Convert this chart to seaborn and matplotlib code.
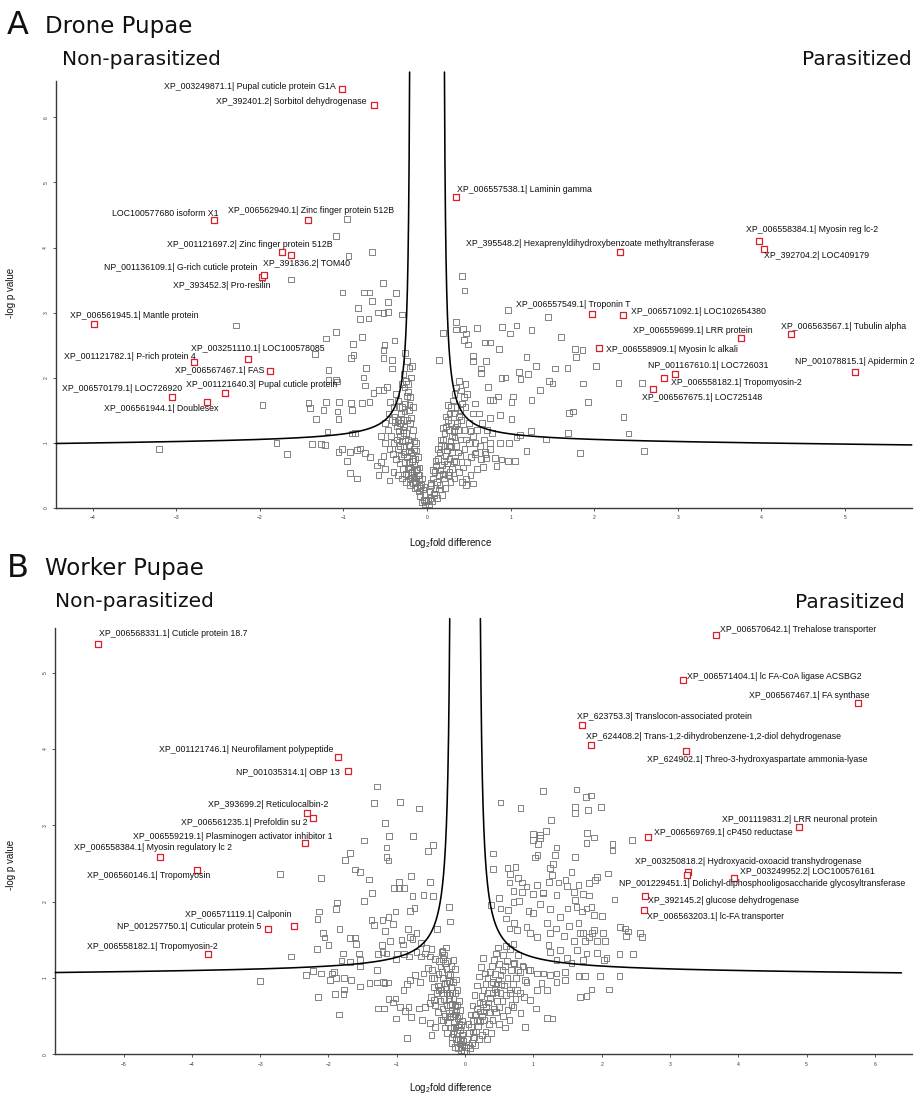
import numpy as np
import pandas as pd
import matplotlib
matplotlib.use('Agg')
import matplotlib.pyplot as plt
import seaborn as sns

# ---------------- Panel A: drone pupae ----------------
drone_gray = [
    (-3.21, 0.90), (-2.29, 2.80), (-0.96, 4.44), (-1.09, 4.18), (-0.94, 3.87), (-0.66, 3.93),
    (-1.63, 3.51), (-0.53, 3.45), (-1.01, 3.31), (-0.75, 3.31), (-0.69, 3.31), (-0.37, 3.30),
    (-0.66, 3.18), (-0.47, 3.16), (-0.83, 3.07), (-0.59, 3.00), (-0.52, 2.99), (-0.47, 3.01),
    (-0.80, 2.90), (-0.70, 2.91), (-0.30, 2.97), (-1.09, 2.70), (-1.21, 2.60), (-0.78, 2.62),
    (-0.89, 2.52), (-0.39, 2.57), (-0.51, 2.50), (-0.52, 2.43), (-1.34, 2.36), (-0.91, 2.30),
    (-0.88, 2.35), (-0.52, 2.30), (-0.42, 2.27), (-0.26, 2.38), (-0.18, 2.18), (0.14, 2.27),
    (0.19, 2.69), (-0.73, 2.15), (-0.42, 2.14), (-1.18, 2.12), (-1.18, 1.97), (-1.09, 1.97),
    (-0.76, 2.00), (-0.74, 1.88), (-1.97, 1.58), (-1.42, 1.61), (-1.40, 1.53), (-1.21, 1.63),
    (-1.24, 1.50), (-1.05, 1.62), (-1.07, 1.48), (-0.91, 1.61), (-0.90, 1.50), (-0.78, 1.61),
    (-0.69, 1.63), (-0.64, 1.76), (-0.58, 1.81), (-0.52, 1.81), (-0.48, 1.86), (-1.33, 1.36),
    (-1.06, 1.36), (-1.19, 1.17), (-0.90, 1.14), (-0.86, 1.15), (-1.80, 1.00), (-1.68, 0.83),
    (-1.38, 0.98), (-1.27, 0.98), (-1.22, 0.96), (-1.06, 0.86), (-1.02, 0.90), (-0.96, 0.72),
    (-0.92, 0.86), (-0.84, 0.89), (-0.80, 0.91), (-0.74, 0.84), (-0.68, 0.78), (-0.92, 0.53),
    (-0.84, 0.45), (-1.08, 1.94),
    (0.42, 3.56), (0.45, 3.34), (0.97, 3.04), (1.45, 2.93), (0.35, 2.86), (0.35, 2.74),
    (0.43, 2.75), (0.47, 2.68), (0.60, 2.76), (0.90, 2.78), (1.07, 2.80), (0.99, 2.68),
    (1.25, 2.73), (1.60, 2.62), (0.44, 2.58), (0.49, 2.51), (0.69, 2.54), (0.75, 2.54),
    (0.86, 2.44), (1.19, 2.32), (1.30, 2.18), (1.77, 2.44), (1.86, 2.43), (1.78, 2.32),
    (2.02, 2.18), (1.53, 2.14), (1.68, 2.15), (0.55, 2.33), (0.55, 2.25), (0.71, 2.25),
    (0.65, 2.14), (0.65, 2.07), (1.10, 2.09), (1.21, 2.05), (1.12, 1.98), (0.89, 1.99),
    (0.94, 2.00), (0.73, 1.86), (0.85, 1.71), (0.75, 1.66), (0.79, 1.66), (1.46, 1.95),
    (1.50, 1.91), (1.87, 1.91), (2.29, 1.92), (2.57, 1.92), (1.25, 1.66), (1.35, 1.81),
    (1.93, 1.62), (1.03, 1.71), (1.01, 1.63), (1.70, 1.46), (1.75, 1.48), (2.35, 1.39),
    (0.87, 1.43), (1.01, 1.36), (0.75, 1.38), (1.24, 1.18), (1.11, 1.12), (1.07, 1.08),
    (1.69, 1.15), (2.41, 1.14), (1.42, 1.05), (1.19, 0.87), (1.83, 0.84), (2.60, 0.87),
    (0.98, 1.00), (0.87, 1.00), (0.75, 1.00), (0.81, 0.76), (0.89, 0.74), (0.97, 0.72),
    (1.05, 0.72), (0.83, 0.64), (0.67, 0.63), (0.71, 0.76), (0.55, 0.37), (0.47, 0.35),
    (0.69, 0.86), (0.57, 0.83),
    # dense centre, left arm
    (-0.02, 0.05), (-0.04, 0.12), (-0.03, 0.20), (-0.06, 0.08), (-0.05, 0.28), (-0.08, 0.18),
    (-0.07, 0.35), (-0.10, 0.25), (-0.09, 0.42), (-0.12, 0.32), (-0.11, 0.50), (-0.14, 0.40),
    (-0.13, 0.58), (-0.16, 0.47), (-0.15, 0.66), (-0.18, 0.55), (-0.17, 0.75), (-0.20, 0.62),
    (-0.19, 0.85), (-0.22, 0.70), (-0.21, 0.95), (-0.24, 0.78), (-0.23, 1.05), (-0.26, 0.86),
    (-0.25, 1.15), (-0.28, 0.95), (-0.27, 1.25), (-0.30, 1.02), (-0.29, 1.35), (-0.32, 1.10),
    (-0.31, 1.45), (-0.34, 1.18), (-0.33, 1.55), (-0.36, 1.25), (-0.35, 1.65), (-0.38, 1.32),
    (-0.37, 1.75), (-0.26, 1.60), (-0.24, 1.72), (-0.27, 1.85), (-0.25, 1.95), (-0.28, 2.05),
    (-0.30, 1.90), (-0.22, 1.50), (-0.20, 1.30), (-0.18, 1.10), (-0.16, 0.90), (-0.14, 0.75),
    (-0.12, 0.60), (-0.10, 0.50), (-0.21, 0.45), (-0.25, 0.52), (-0.29, 0.60), (-0.33, 0.68),
    (-0.37, 0.75), (-0.41, 0.82), (-0.45, 0.90), (-0.40, 1.00), (-0.43, 1.10), (-0.47, 1.20),
    (-0.42, 1.35), (-0.46, 1.45), (-0.40, 1.55), (-0.44, 1.62), (-0.39, 1.40), (-0.35, 0.90),
    (-0.31, 0.80), (-0.27, 0.70), (-0.23, 0.60), (-0.19, 0.50), (-0.15, 0.30), (-0.20, 0.35),
    (-0.25, 0.40), (-0.30, 0.45), (-0.35, 0.50), (-0.40, 0.55), (-0.50, 0.60), (-0.55, 0.70),
    (-0.60, 0.65), (-0.52, 0.80), (-0.58, 0.50), (-0.45, 0.42), (-0.50, 1.00), (-0.55, 1.10),
    (-0.50, 1.30), (-0.36, 1.05), (-0.32, 0.95), (-0.28, 1.15), (-0.34, 1.35), (-0.30, 1.55),
    (-0.23, 1.90), (-0.20, 1.70), (-0.21, 2.15), (-0.24, 2.25), (-0.19, 2.00), (-0.17, 1.55),
    (-0.13, 1.00), (-0.01, 0.10), (-0.03, 0.32), (-0.06, 0.45), (-0.09, 0.62), (-0.11, 0.78),
    (-0.13, 0.88), (-0.15, 1.02), (-0.17, 1.20), (-0.19, 1.38), (-0.21, 1.58), (-0.23, 1.78),
    (-0.08, 0.30), (-0.13, 0.45), (-0.18, 0.72), (-0.22, 0.88), (-0.26, 1.02), (-0.29, 1.20),
    (-0.32, 1.30), (-0.24, 1.35), (-0.27, 1.48), (-0.17, 0.38), (-0.23, 0.50), (-0.28, 0.82),
    # dense centre, right arm
    (0.02, 0.05), (0.04, 0.15), (0.03, 0.25), (0.06, 0.10), (0.05, 0.35), (0.08, 0.22),
    (0.07, 0.45), (0.10, 0.30), (0.09, 0.55), (0.12, 0.40), (0.11, 0.65), (0.14, 0.50),
    (0.13, 0.75), (0.16, 0.58), (0.15, 0.85), (0.18, 0.66), (0.17, 0.95), (0.20, 0.72),
    (0.19, 1.05), (0.22, 0.80), (0.21, 1.15), (0.24, 0.88), (0.23, 1.25), (0.26, 0.95),
    (0.25, 1.35), (0.28, 1.02), (0.27, 1.45), (0.30, 1.10), (0.29, 1.55), (0.32, 1.18),
    (0.31, 1.65), (0.34, 1.25), (0.33, 1.75), (0.36, 1.30), (0.35, 1.85), (0.38, 1.40),
    (0.40, 1.50), (0.42, 1.60), (0.44, 1.70), (0.38, 1.95), (0.25, 0.50), (0.30, 0.60),
    (0.35, 0.70), (0.40, 0.80), (0.45, 0.90), (0.50, 1.00), (0.55, 1.10), (0.60, 1.20),
    (0.50, 1.30), (0.55, 1.45), (0.45, 1.20), (0.40, 1.05), (0.35, 0.95), (0.30, 0.85),
    (0.20, 0.45), (0.15, 0.35), (0.22, 0.30), (0.28, 0.40), (0.33, 0.45), (0.38, 0.55),
    (0.43, 0.62), (0.48, 0.70), (0.53, 0.78), (0.58, 0.85), (0.63, 0.95), (0.68, 1.05),
    (0.60, 0.60), (0.65, 0.75), (0.70, 0.82), (0.75, 0.90), (0.52, 0.50), (0.47, 0.45),
    (0.42, 0.40), (0.57, 1.60), (0.48, 1.75), (0.62, 1.45), (0.66, 1.30), (0.72, 1.20),
    (0.78, 1.15), (0.58, 1.00), (0.26, 1.20), (0.29, 1.30), (0.32, 1.45), (0.36, 1.55),
    (0.41, 1.80), (0.46, 1.90), (0.23, 0.60), (0.27, 0.75), (0.18, 0.20), (0.12, 0.15),
    (0.01, 0.12), (0.04, 0.38), (0.07, 0.58), (0.10, 0.72), (0.13, 0.90), (0.16, 1.05),
    (0.19, 1.22), (0.22, 1.40), (0.25, 1.58), (0.09, 0.20), (0.14, 0.28), (0.19, 0.52),
    (0.24, 0.68), (0.29, 0.95), (0.33, 1.08), (0.37, 1.20), (0.41, 1.35), (0.46, 1.55),
    (0.21, 0.95), (0.27, 0.55), (0.32, 0.72), (0.37, 0.85), (0.52, 1.18), (0.47, 1.05),
]

drone_hit_names = [
    'XP_003249871.1| Pupal cuticle protein G1A', 'XP_392401.2| Sorbitol dehydrogenase',
    'LOC100577680 isoform X1', 'XP_006562940.1| Zinc finger protein 512B',
    'XP_001121697.2| Zinc finger protein 512B', 'XP_391836.2| TOM40',
    'NP_001136109.1| G-rich cuticle protein', 'XP_393452.3| Pro-resilin',
    'XP_006561945.1| Mantle protein', 'XP_003251110.1| LOC100578085',
    'XP_001121782.1| P-rich protein 4', 'XP_006567467.1| FAS',
    'XP_006570179.1| LOC726920', 'XP_001121640.3| Pupal cuticle protein',
    'XP_006561944.1| Doublesex', 'XP_006557538.1| Laminin gamma',
    'XP_395548.2| Hexaprenyldihydroxybenzoate methyltransferase',
    'XP_006558384.1| Myosin reg lc-2', 'XP_392704.2| LOC409179',
    'XP_006557549.1| Troponin T', 'XP_006571092.1| LOC102654380',
    'XP_006559699.1| LRR protein', 'XP_006563567.1| Tubulin alpha',
    'XP_006558909.1| Myosin lc alkali', 'NP_001078815.1| Apidermin 2',
    'NP_001167610.1| LOC726031', 'XP_006558182.1| Tropomyosin-2',
    'XP_006567675.1| LOC725148',
]
drone_hit_x = [-1.02, -0.634, -2.55, -1.42, -1.73, -1.63, -1.98, -1.95, -3.98, -2.14,
               -2.79, -1.88, -3.05, -2.42, -2.63, 0.347, 2.31, 3.97, 4.03, 1.97,
               2.34, 3.76, 4.35, 2.06, 5.12, 2.97, 2.83, 2.71]
drone_hit_y = [6.43, 6.19, 4.42, 4.43, 3.93, 3.88, 3.54, 3.57, 2.83, 2.28,
               2.24, 2.10, 1.70, 1.77, 1.63, 4.78, 3.93, 4.10, 3.98, 2.98,
               2.96, 2.61, 2.67, 2.46, 2.08, 2.05, 2.00, 1.82]
drone_lab_x = [-3.15, -2.53, -3.77, -2.38, -3.11, -1.96, -3.86, -3.04, -4.27, -2.82,
               -4.34, -3.02, -4.37, -2.89, -3.86, 0.36, 0.47, 3.82, 4.03, 1.06,
               2.44, 2.46, 4.24, 2.14, 4.40, 2.65, 2.92, 2.57]
drone_lab_y = [6.48, 6.24, 4.53, 4.57, 4.05, 3.76, 3.69, 3.42, 2.95, 2.45,
               2.33, 2.11, 1.83, 1.89, 1.52, 4.89, 4.06, 4.27, 3.87, 3.13,
               3.01, 2.72, 2.78, 2.43, 2.24, 2.18, 1.92, 1.70]

# ---------------- Panel B: worker pupae ----------------
worker_gray = [
    (-1.29, 3.51), (-1.33, 3.29), (-0.95, 3.31), (-0.67, 3.22), (-1.17, 3.03), (-1.11, 2.86),
    (-0.76, 2.86), (-1.48, 2.80), (-1.15, 2.71), (-1.15, 2.59), (-1.12, 2.54), (-1.68, 2.64),
    (-1.76, 2.55), (-0.47, 2.74), (-0.54, 2.66), (-1.61, 2.42), (-1.54, 2.39), (-2.71, 2.36),
    (-2.11, 2.31), (-1.41, 2.29), (-0.79, 2.34), (-0.97, 2.26), (-1.04, 2.18), (-0.97, 2.18),
    (-0.89, 2.18), (-0.51, 2.26), (-1.36, 2.11), (-1.48, 2.01), (-0.77, 2.07), (-0.61, 2.09),
    (-0.47, 2.07), (-1.87, 1.99), (-1.89, 1.90), (-2.14, 1.87), (-2.16, 1.77), (-0.74, 1.92),
    (-0.81, 1.88), (-1.02, 1.87), (-0.24, 1.93), (-0.22, 1.74), (-1.37, 1.76), (-1.33, 1.69),
    (-1.21, 1.76), (-1.12, 1.80), (-1.05, 1.71), (-1.84, 1.64), (-1.17, 1.62), (-0.84, 1.64),
    (-0.71, 1.59), (-0.81, 1.54), (-0.41, 1.64), (-2.08, 1.59), (-2.06, 1.53), (-2.00, 1.43),
    (-1.69, 1.52), (-1.61, 1.53), (-1.60, 1.45), (-2.17, 1.38), (-1.10, 1.48), (-0.93, 1.50),
    (-0.91, 1.44), (-0.77, 1.51), (-0.65, 1.46), (-0.57, 1.39), (-0.49, 1.38), (-1.79, 1.32),
    (-1.55, 1.32), (-1.28, 1.31), (-1.22, 1.43), (-1.21, 1.34), (-1.15, 1.32), (-1.00, 1.32),
    (-2.55, 1.28), (-1.81, 1.23), (-1.68, 1.21), (-1.54, 1.24), (-1.01, 1.25), (-0.89, 1.31),
    (-0.82, 1.28), (-0.71, 1.34), (-0.65, 1.28), (-0.59, 1.32), (-0.51, 1.28), (-0.34, 1.34),
    (-0.32, 1.25), (-0.44, 1.25), (-3.00, 0.96), (-2.33, 1.04), (-2.23, 1.09), (-2.11, 1.06),
    (-1.95, 1.06), (-1.92, 1.08), (-1.98, 0.97), (-1.89, 1.00), (-1.77, 1.00), (-1.67, 0.97),
    (-1.54, 1.15), (-1.54, 0.89), (-1.40, 0.93), (-1.29, 1.10), (-1.20, 0.95), (-1.12, 0.94),
    (-1.77, 0.85), (-1.90, 0.79), (-1.78, 0.79), (-2.15, 0.75), (-1.85, 0.52), (-1.27, 0.60),
    (-1.19, 0.60), (-1.12, 0.72), (-1.02, 0.73), (-1.05, 0.68), (-0.95, 0.62), (-0.88, 0.57),
    (-0.83, 0.62), (-0.79, 0.49), (-1.01, 0.47), (-0.85, 0.21), (-0.90, 0.84), (-0.85, 0.92),
    (-0.81, 0.97), (-0.73, 1.04), (-0.66, 0.95), (-0.61, 1.06), (-0.54, 1.13), (-0.49, 1.00),
    (-0.67, 0.60), (-0.59, 0.62), (-0.51, 0.67), (-0.46, 0.71), (-0.39, 0.84), (-0.32, 0.80),
    (-0.27, 0.93), (-0.22, 0.80), (-0.63, 0.45), (-0.51, 0.41), (-0.44, 0.36), (-0.32, 0.45),
    (-0.22, 0.49), (-0.17, 0.36), (-0.12, 0.28), (-0.07, 0.19), (-0.19, 0.23), (-0.49, 0.25),
    (-1.29, 0.94), (-1.18, 0.93),
    (1.14, 3.45), (1.63, 3.47), (0.52, 3.30), (0.81, 3.23), (1.77, 3.37), (1.84, 3.39),
    (1.61, 3.24), (1.61, 3.16), (1.80, 3.20), (1.99, 3.24), (1.26, 3.07), (1.19, 2.93),
    (1.10, 2.87), (0.99, 2.89), (0.99, 2.81), (1.10, 2.83), (1.07, 2.76), (1.79, 2.90),
    (1.89, 2.84), (1.78, 2.77), (2.16, 2.76), (2.16, 2.67), (2.44, 2.81), (0.41, 2.63),
    (1.34, 2.71), (1.32, 2.61), (1.06, 2.61), (1.02, 2.58), (1.61, 2.59), (0.41, 2.43),
    (0.62, 2.44), (0.74, 2.45), (0.66, 2.36), (0.78, 2.31), (1.24, 2.44), (1.29, 2.49),
    (1.27, 2.35), (1.56, 2.39), (2.09, 2.37), (1.90, 2.28), (1.93, 2.32), (0.65, 2.25),
    (0.71, 2.14), (0.83, 2.25), (0.90, 2.20), (1.05, 2.22), (1.14, 2.12), (1.23, 2.26),
    (1.37, 2.25), (1.47, 2.28), (1.49, 2.21), (1.81, 2.24), (1.66, 2.22), (0.83, 2.13),
    (0.99, 2.10), (1.14, 2.11), (1.34, 2.09), (1.59, 2.13), (1.61, 2.02), (1.73, 2.10),
    (1.81, 2.08), (2.19, 2.03), (0.50, 2.05), (0.52, 1.91), (0.63, 1.89), (0.38, 1.96),
    (0.71, 2.00), (0.79, 2.01), (0.93, 1.88), (1.00, 1.85), (1.10, 1.97), (1.24, 1.90),
    (1.39, 1.80), (1.50, 1.91), (1.63, 1.93), (1.71, 1.87), (1.78, 1.91), (1.85, 1.93),
    (1.89, 1.83), (2.00, 1.81), (1.66, 1.72), (1.73, 1.59), (1.86, 1.59), (1.89, 1.63),
    (2.02, 1.59), (0.60, 1.78), (0.72, 1.72), (0.65, 1.65), (0.76, 1.63), (0.90, 1.67),
    (0.95, 1.59), (1.05, 1.54), (1.20, 1.72), (1.24, 1.59), (1.33, 1.65), (1.45, 1.55),
    (1.52, 1.68), (1.60, 1.48), (1.68, 1.59), (1.76, 1.48), (1.81, 1.54), (1.93, 1.48),
    (2.05, 1.48), (2.27, 1.67), (2.34, 1.65), (2.39, 1.61), (2.36, 1.55), (2.56, 1.59),
    (2.59, 1.54), (2.46, 1.31), (2.26, 1.31), (2.07, 1.26), (2.03, 1.24), (1.39, 1.37),
    (1.24, 1.34), (1.22, 1.43), (1.49, 1.26), (1.64, 1.37), (1.78, 1.32), (1.93, 1.33),
    (1.73, 1.24), (1.34, 1.24), (1.56, 1.20), (1.66, 1.03), (1.76, 1.03), (1.98, 1.03),
    (2.26, 1.03), (1.85, 0.85), (2.11, 0.85), (1.68, 0.75), (1.78, 0.76), (1.20, 0.48),
    (1.28, 0.47), (1.34, 1.06), (1.46, 1.08), (1.46, 0.97), (1.34, 0.95), (1.24, 1.04),
    (1.15, 1.06), (1.05, 1.06), (1.12, 0.93), (1.20, 0.84), (1.05, 0.84), (0.95, 0.71),
    (1.04, 0.60), (0.88, 0.36), (0.81, 0.54), (0.71, 0.62), (0.66, 0.80), (0.76, 0.84),
    (0.88, 0.97), (0.93, 1.10), (0.84, 1.16), (0.78, 1.10), (0.71, 1.19),
    # dense centre, left arm
    (-0.02, 0.04), (-0.04, 0.10), (-0.03, 0.18), (-0.06, 0.06), (-0.05, 0.25), (-0.08, 0.14),
    (-0.07, 0.32), (-0.10, 0.20), (-0.09, 0.40), (-0.12, 0.28), (-0.11, 0.48), (-0.14, 0.35),
    (-0.13, 0.56), (-0.16, 0.42), (-0.15, 0.64), (-0.18, 0.50), (-0.17, 0.72), (-0.20, 0.58),
    (-0.19, 0.80), (-0.22, 0.65), (-0.21, 0.88), (-0.24, 0.72), (-0.23, 0.96), (-0.26, 0.80),
    (-0.25, 1.04), (-0.28, 0.86), (-0.27, 1.12), (-0.30, 0.93), (-0.29, 1.20), (-0.32, 1.00),
    (-0.31, 1.30), (-0.34, 1.08), (-0.36, 1.15), (-0.38, 1.22), (-0.40, 0.90), (-0.42, 0.80),
    (-0.36, 0.70), (-0.33, 0.60), (-0.29, 0.50), (-0.25, 0.42), (-0.21, 0.35), (-0.17, 0.27),
    (-0.13, 0.20), (-0.45, 1.00), (-0.48, 1.10), (-0.44, 0.65), (-0.50, 0.75), (-0.40, 0.55),
    (-0.35, 0.45), (-0.30, 0.35), (-0.26, 0.28), (-0.20, 0.15), (-0.15, 0.10), (-0.10, 0.08),
    (-0.22, 1.05), (-0.18, 0.95), (-0.14, 0.80), (-0.12, 0.65), (-0.08, 0.50), (-0.06, 0.38),
    (-0.33, 1.35), (-0.28, 1.40), (-0.35, 0.85), (-0.39, 1.05), (-0.46, 0.88),
    (-0.01, 0.09), (-0.03, 0.28), (-0.05, 0.44), (-0.07, 0.58), (-0.09, 0.70), (-0.11, 0.84),
    (-0.13, 0.98), (-0.15, 1.12), (-0.17, 1.24), (-0.10, 0.36), (-0.15, 0.52), (-0.19, 0.66),
    (-0.23, 0.78), (-0.27, 0.64), (-0.31, 0.72), (-0.24, 0.54), (-0.20, 1.16), (-0.26, 1.22),
    # dense centre, right arm
    (0.02, 0.04), (0.04, 0.12), (0.03, 0.20), (0.07, 0.08), (0.06, 0.28), (0.10, 0.15),
    (0.09, 0.36), (0.13, 0.22), (0.12, 0.44), (0.16, 0.30), (0.15, 0.52), (0.19, 0.37),
    (0.18, 0.60), (0.22, 0.44), (0.21, 0.68), (0.25, 0.50), (0.24, 0.76), (0.28, 0.56),
    (0.27, 0.84), (0.31, 0.62), (0.30, 0.92), (0.34, 0.68), (0.33, 1.00), (0.37, 0.74),
    (0.36, 1.08), (0.40, 0.80), (0.39, 1.16), (0.43, 0.86), (0.42, 1.24), (0.46, 0.92),
    (0.45, 1.32), (0.49, 0.98), (0.48, 1.40), (0.52, 1.04), (0.55, 1.10), (0.58, 1.16),
    (0.61, 1.22), (0.30, 0.30), (0.35, 0.40), (0.40, 0.45), (0.45, 0.55), (0.50, 0.62),
    (0.55, 0.70), (0.60, 0.78), (0.65, 0.85), (0.70, 0.92), (0.75, 1.00), (0.80, 1.08),
    (0.85, 1.15), (0.25, 0.25), (0.20, 0.20), (0.15, 0.12), (0.50, 0.40), (0.56, 0.50),
    (0.62, 0.58), (0.68, 0.65), (0.74, 0.72), (0.80, 0.80), (0.42, 0.60), (0.47, 0.70),
    (0.52, 0.80), (0.57, 0.90), (0.62, 1.00), (0.67, 1.10), (0.72, 1.20), (0.77, 1.30),
    (0.35, 0.55), (0.28, 0.45), (0.38, 0.92), (0.44, 1.05), (0.50, 1.18), (0.56, 1.30),
    (0.60, 1.42), (0.66, 1.38), (0.71, 1.45), (0.90, 0.95), (0.95, 1.10), (0.86, 0.75),
    (0.65, 0.45), (0.58, 0.35), (0.32, 0.20), (0.38, 0.28),
    (0.01, 0.10), (0.05, 0.40), (0.08, 0.52), (0.11, 0.64), (0.14, 0.78), (0.17, 0.90),
    (0.20, 1.02), (0.23, 1.14), (0.26, 1.26), (0.12, 0.30), (0.17, 0.45), (0.22, 0.56),
    (0.26, 0.66), (0.33, 0.80), (0.40, 0.95), (0.46, 0.82), (0.53, 0.92), (0.29, 1.06),
]

worker_hit_names = [
    'XP_006568331.1| Cuticle protein 18.7', 'XP_001121746.1| Neurofilament polypeptide',
    'NP_001035314.1| OBP 13', 'XP_393699.2| Reticulocalbin-2',
    'XP_006561235.1| Prefoldin su 2', 'XP_006559219.1| Plasminogen activator inhibitor 1',
    'XP_006558384.1| Myosin regulatory lc 2', 'XP_006560146.1| Tropomyosin',
    'XP_006571119.1| Calponin', 'NP_001257750.1| Cuticular protein 5',
    'XP_006558182.1| Tropomyosin-2', 'XP_006570642.1| Trehalose transporter',
    'XP_006571404.1| lc FA-CoA ligase ACSBG2', 'XP_006567467.1| FA synthase',
    'XP_623753.3| Translocon-associated protein',
    'XP_624408.2| Trans-1,2-dihydrobenzene-1,2-diol dehydrogenase',
    'XP_624902.1| Threo-3-hydroxyaspartate ammonia-lyase',
    'XP_001119831.2| LRR neuronal protein', 'XP_006569769.1| cP450 reductase',
    'XP_003250818.2| Hydroxyacid-oxoacid transhydrogenase',
    'XP_003249952.2| LOC100576161',
    'NP_001229451.1| Dolichyl-diphosphooligosaccharide glycosyltransferase',
    'XP_392145.2| glucose dehydrogenase', 'XP_006563203.1| lc-FA transporter',
]
worker_hit_x = [-5.38, -1.86, -1.72, -2.31, -2.22, -2.35, -4.47, -3.92, -2.50, -2.88,
                -3.77, 3.67, 3.19, 5.76, 1.71, 1.84, 3.24, 4.89, 2.68, 3.26,
                3.94, 3.25, 2.63, 2.62]
worker_hit_y = [5.38, 3.89, 3.71, 3.16, 3.09, 2.77, 2.59, 2.41, 1.68, 1.64,
                1.32, 5.49, 4.91, 4.60, 4.31, 4.05, 3.98, 2.98, 2.85, 2.39,
                2.31, 2.35, 2.08, 1.89]
worker_lab_x = [-5.36, -4.48, -3.36, -3.77, -4.16, -4.86, -5.73, -5.54, -4.10, -5.09,
                -5.53, 3.73, 3.25, 4.16, 1.64, 1.77, 2.66, 3.76, 2.76, 2.49,
                4.02, 2.25, 2.68, 2.66]
worker_lab_y = [5.51, 4.00, 3.69, 3.27, 3.04, 2.86, 2.71, 2.34, 1.83, 1.68,
                1.41, 5.56, 4.95, 4.70, 4.42, 4.16, 3.86, 3.08, 2.90, 2.52,
                2.39, 2.24, 2.02, 1.80]

# significance curve parameters (asymptote, scale, offset, slope)
drone_curve = (0.19, 0.1055, 1.0157, 0.012)
worker_curve = (0.19, 0.16, 1.08, 0.006)

sns.set_style('ticks')
plt.rcParams['font.family'] = ['Liberation Sans', 'DejaVu Sans']
plt.rcParams['mathtext.default'] = 'regular'

fig = plt.figure(figsize=(9.18, 10.97), dpi=100)
ax_a = fig.add_axes([56 / 918, 1 - 507.7 / 1097, (911.7 - 56) / 918, (507.7 - 81) / 1097])
ax_b = fig.add_axes([55.3 / 918, 1 - 1054.3 / 1097, (911.7 - 55.3) / 918, (1054.3 - 627.7) / 1097])

GRAY = '#7a7a7a'
RED = '#d8202e'


def draw_curve(ax, params, ytop, xleft, xright):
    x0, a, b, m = params
    start = x0 + a / (ytop - b)
    for sign, end in ((-1, xleft), (1, xright)):
        u = np.linspace(0, 1, 600) ** 3
        ax_ = start + (end - start) * u
        yy = b + a / (ax_ - x0) - m * ax_
        ax.plot(sign * ax_, yy, color='black', lw=1.15, clip_on=False, zorder=4)


def panel(ax, gray, hx, hy, names, lx, ly, xlim, ylim, yticks, xticks, curve, ytop, xr):
    g = pd.DataFrame(gray, columns=['fold', 'logp'])
    sns.scatterplot(data=g, x='fold', y='logp', marker='s', s=17, facecolor='none',
                    edgecolor=GRAY, linewidth=0.65, ax=ax, zorder=2, legend=False)
    h = pd.DataFrame({'fold': hx, 'logp': hy})
    sns.scatterplot(data=h, x='fold', y='logp', marker='s', s=18, facecolor='white',
                    edgecolor=RED, linewidth=0.9, ax=ax, zorder=5, legend=False)
    for name, tx, ty in zip(names, lx, ly):
        ax.text(tx, ty, name, fontsize=6.35, ha='left', va='center', color='#111111', zorder=6)
    draw_curve(ax, curve, ytop, -xlim[0], xr)
    ax.set_xlim(*xlim)
    ax.set_ylim(*ylim)
    ax.set_xticks(xticks)
    ax.set_yticks(yticks)
    ax.set_xlabel('')
    ax.set_ylabel('')
    sns.despine(ax=ax)
    for s in ('left', 'bottom'):
        ax.spines[s].set_color('#3a3a3a')
        ax.spines[s].set_linewidth(1.0)
    ax.tick_params(axis='both', labelsize=3.6, length=2.5, width=0.6, colors='#3a3a3a',
                   pad=3)
    ax.tick_params(axis='y', labelrotation=90)
    for t in ax.get_yticklabels():
        t.set_va('center')


panel(ax_a, drone_gray, drone_hit_x, drone_hit_y, drone_hit_names, drone_lab_x, drone_lab_y,
      (-4.44, 5.8), (0, 6.56), range(0, 7), range(-4, 6), drone_curve, 6.7, 5.8)
panel(ax_b, worker_gray, worker_hit_x, worker_hit_y, worker_hit_names, worker_lab_x,
      worker_lab_y, (-6.0, 6.54), (0, 5.59), range(0, 6), range(-5, 7), worker_curve, 5.71,
      6.39)


def ftext(px, py, s, **kw):
    fig.text(px / 918, 1 - py / 1097, s, **kw)


head = dict(family=['DejaVu Sans'], va='baseline', color='#111111')
ftext(7, 34.5, 'A', fontsize=23, **head)
ftext(45, 33.3, 'Drone Pupae', fontsize=16.5, **head)
ftext(61.7, 65, 'Non-parasitized', fontsize=14.5, **head)
ftext(911.7, 65.3, 'Parasitized', fontsize=14.5, ha='right', **head)
ftext(7, 577, 'B', fontsize=23, **head)
ftext(45, 575, 'Worker Pupae', fontsize=16.5, **head)
ftext(55, 606.7, 'Non-parasitized', fontsize=14.5, **head)
ftext(905, 608.3, 'Parasitized', fontsize=14.5, ha='right', **head)

lab = dict(fontsize=7, color='#111111', ha='center', va='center')
ftext(11, 293, '-log p value', rotation=90, **lab)
ftext(11, 865, '-log p value', rotation=90, **lab)
ftext(451, 543, 'Log$_2$fold difference', **lab)
ftext(451, 1088, 'Log$_2$fold difference', **lab)

fig.savefig('out.png', dpi=100)
